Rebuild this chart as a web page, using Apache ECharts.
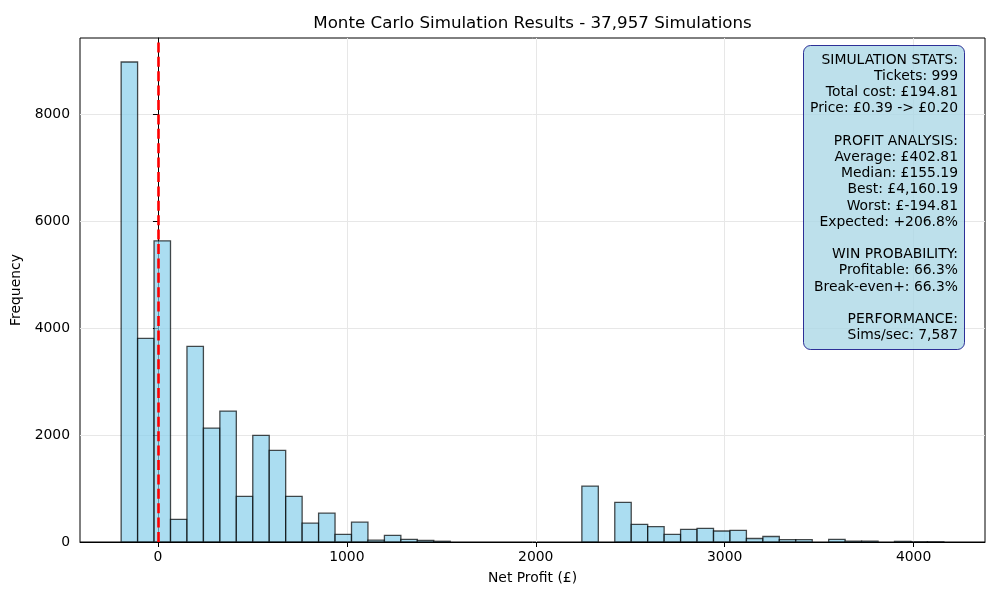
<!DOCTYPE html>
<html>
<head>
<meta charset="utf-8">
<script src="https://cdn.jsdelivr.net/npm/echarts@6/dist/echarts.min.js"></script>
<style>
  html, body { margin: 0; padding: 0; background: #fff; }
  #container { width: 1000px; height: 600px; }
</style>
</head>
<body>
<div id="container"></div>
<script>
// histogram of net profit, 50 bins between worst and best result
const binMin = -194.81;
const binMax = 4160.19;
const binCount = 50;
const counts = [
  8977, 3807, 5632, 424, 3657, 2131, 2449, 854, 1994, 1713,
  854, 352, 539, 143, 370, 35, 125, 50, 30, 14,
  0, 0, 0, 0, 0, 0, 0, 0, 1045, 0,
  742, 331, 287, 143, 237, 256, 206, 218, 65, 103,
  44, 44, 0, 50, 16, 16, 0, 12, 3, 3
];
const xTicks = [0, 1000, 2000, 3000, 4000];
const yTicks = [0, 2000, 4000, 6000, 8000];
const breakEven = 0;
const statsLines = [
  'SIMULATION STATS:',
  'Tickets: 999',
  'Total cost: £194.81',
  'Price: £0.39 -> £0.20',
  '',
  'PROFIT ANALYSIS:',
  'Average: £402.81',
  'Median: £155.19',
  'Best: £4,160.19',
  'Worst: £-194.81',
  'Expected: +206.8%',
  '',
  'WIN PROBABILITY:',
  'Profitable: 66.3%',
  'Break-even+: 66.3%',
  '',
  'PERFORMANCE:',
  'Sims/sec: 7,587'
];

const binWidth = (binMax - binMin) / binCount;
const histData = counts.map((c, i) => [binMin + i * binWidth, binMin + (i + 1) * binWidth, c]);
const span = binMax - binMin;
const font = 'DejaVu Sans';

const chart = echarts.init(document.getElementById('container'), null, { renderer: 'canvas' });

const option = {
  animation: false,
  backgroundColor: '#fff',
  title: [
    {
      text: 'Monte Carlo Simulation Results - 37,957 Simulations',
      left: 532.5,
      textAlign: 'center',
      top: 15,
      padding: 0,
      textStyle: { fontFamily: font, fontSize: 16.7, fontWeight: 'normal', color: '#000' }
    },
    {
      // right-aligned title gets shifted by its text width, compensate
      text: statsLines.join('\n'),
      right: -113,
      top: 45,
      textAlign: 'right',
      padding: [7, 7, 6, 7],
      backgroundColor: 'rgba(173,216,230,0.8)',
      borderColor: 'rgba(0,0,128,0.8)',
      borderWidth: 1,
      borderRadius: 7,
      textStyle: { fontFamily: font, fontSize: 13.9, fontWeight: 'normal', color: '#000', lineHeight: 16.2, align: 'right' }
    }
  ],
  grid: {
    left: 80, right: 15, top: 38, bottom: 58,
    outerBoundsMode: 'none',
    containLabel: false,
    show: true, borderColor: '#000', borderWidth: 1, backgroundColor: 'transparent'
  },
  xAxis: {
    type: 'value',
    min: binMin - 0.05 * span,
    max: binMax + 0.05 * span,
    name: 'Net Profit (£)',
    nameLocation: 'middle',
    nameGap: 29,
    nameTextStyle: { fontFamily: font, fontSize: 13.9, color: '#000' },
    axisLine: { show: true, onZero: false, lineStyle: { color: '#000', width: 1 } },
    axisTick: { show: true, length: 5, lineStyle: { color: '#000' }, customValues: xTicks },
    axisLabel: { fontFamily: font, fontSize: 13.9, color: '#000', margin: 8, customValues: xTicks, formatter: v => String(v) },
    splitLine: { show: true, lineStyle: { color: '#e7e7e7', width: 1 } }
  },
  yAxis: {
    type: 'value',
    min: 0,
    max: Math.max(...counts) * 1.05,
    name: 'Frequency',
    nameLocation: 'middle',
    nameGap: 52,
    nameTextStyle: { fontFamily: font, fontSize: 13.9, color: '#000' },
    axisLine: { show: true, lineStyle: { color: '#000', width: 1 } },
    axisTick: { show: true, length: 5, lineStyle: { color: '#000' }, customValues: yTicks },
    axisLabel: { fontFamily: font, fontSize: 13.9, color: '#000', margin: 10, customValues: yTicks, formatter: v => String(v) },
    splitLine: { show: true, lineStyle: { color: '#e7e7e7', width: 1 } }
  },
  series: [
    {
      type: 'custom',
      data: histData,
      encode: { x: [0, 1], y: 2 },
      renderItem: function (params, api) {
        const h = api.value(2);
        if (!h) return null;
        const p0 = api.coord([api.value(0), 0]);
        const p1 = api.coord([api.value(1), h]);
        return {
          type: 'rect',
          shape: { x: p0[0], y: p1[1], width: p1[0] - p0[0], height: p0[1] - p1[1] },
          style: { fill: 'rgba(135,206,235,0.7)', stroke: 'rgba(0,0,0,0.7)', lineWidth: 1.3 }
        };
      },
      markLine: {
        silent: true,
        symbol: 'none',
        label: { show: false },
        lineStyle: { color: '#ff0000', width: 2.6, type: [10, 4.4], opacity: 1 },
        data: [{ xAxis: breakEven }]
      }
    }
  ]
};

chart.setOption(option);
window.addEventListener('resize', chart.resize);
</script>
</body>
</html>
